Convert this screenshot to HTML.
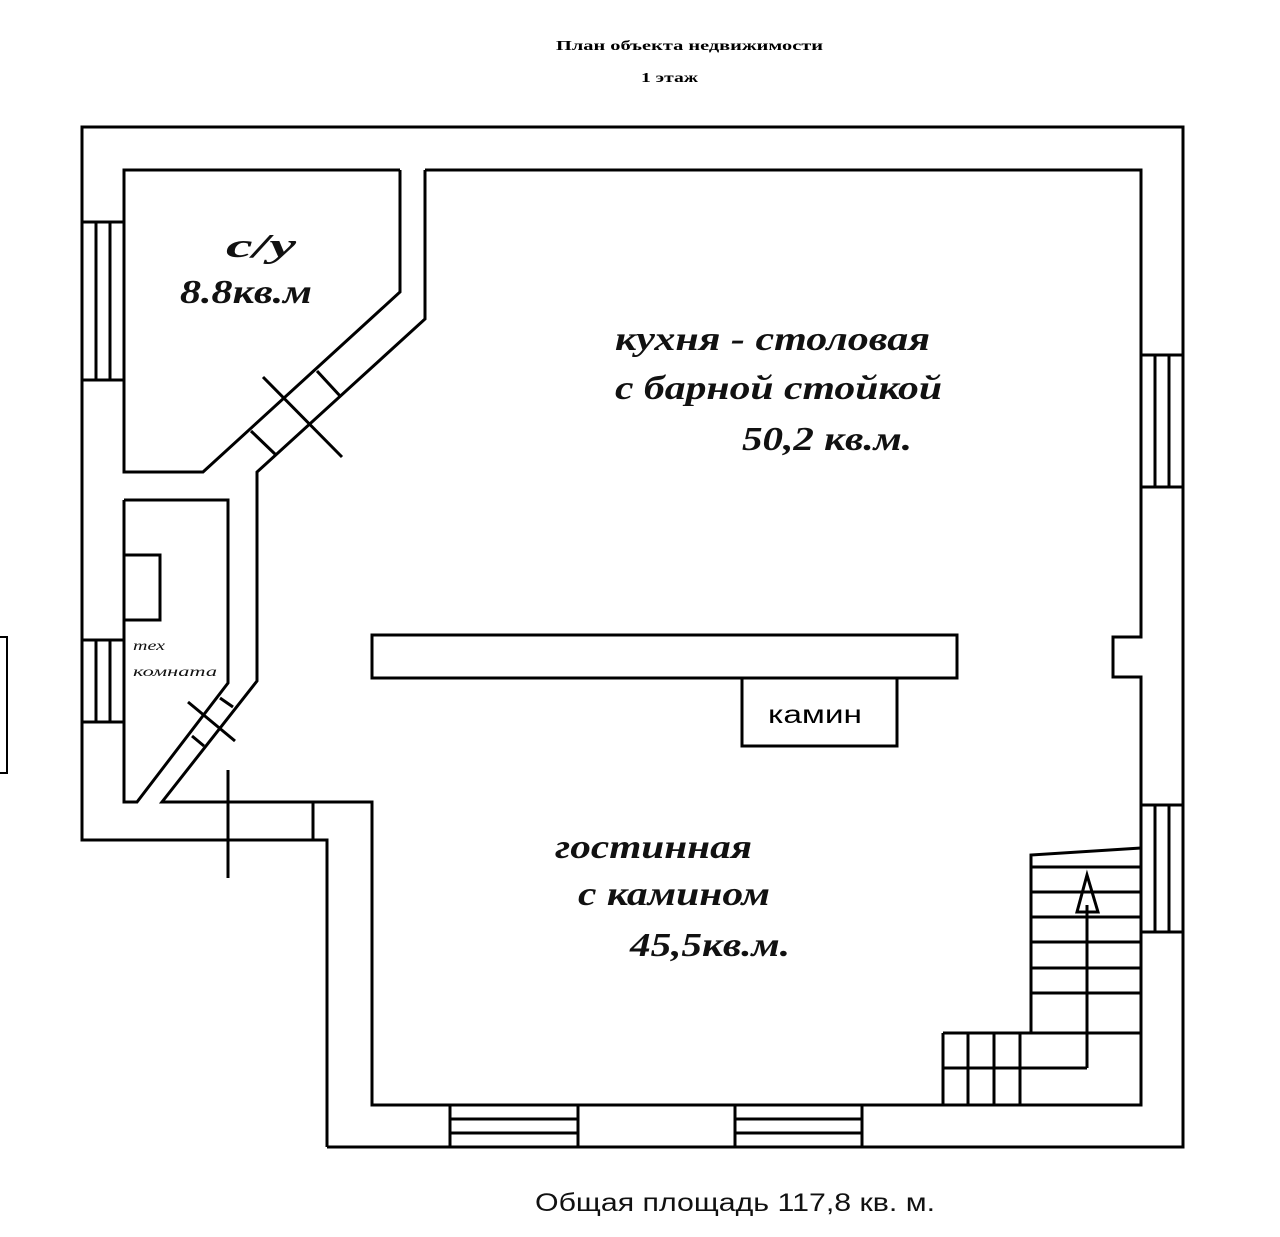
<!DOCTYPE html>
<html><head><meta charset="utf-8"><style>
html,body{margin:0;padding:0;background:#fff;}
svg{display:block}
.r{font-family:"Liberation Serif","DejaVu Serif",serif;font-weight:bold;font-style:italic;font-size:34px;fill:#111}
</style></head><body>
<svg width="1280" height="1237" viewBox="0 0 1280 1237" xmlns="http://www.w3.org/2000/svg">
<g fill="none" stroke="#000" stroke-width="3">
<polyline points="327,1147 1183,1147 1183,127 82,127 82,840 327,840 327,1147"/>
<polyline points="425,170 1141,170 1141,637 1113,637 1113,677 1141,677 1141,1105 372,1105 372,802 162,802 257,681 257,472 425,319 425,170"/>
<line x1="313" y1="802" x2="313" y2="840"/>
<polyline points="400,170 124,170 124,472 203,472 400,292 400,170"/>
<polyline points="124,500 228,500 228,683 137,802 124,802 124,500"/>
<rect x="124" y="555" width="36" height="65"/>
<line x1="317" y1="371" x2="341" y2="397"/>
<line x1="251" y1="431" x2="276" y2="455"/>
<line x1="263" y1="377" x2="342" y2="457"/>
<line x1="220" y1="698" x2="233" y2="707"/>
<line x1="192" y1="736" x2="204" y2="746"/>
<line x1="188" y1="702" x2="235" y2="741"/>
<line x1="228" y1="770" x2="228" y2="878"/>
<rect x="82" y="222" width="42" height="158"/>
<line x1="96" y1="222" x2="96" y2="380"/><line x1="110" y1="222" x2="110" y2="380"/>
<rect x="82" y="640" width="42" height="82"/>
<line x1="96" y1="640" x2="96" y2="722"/><line x1="110" y1="640" x2="110" y2="722"/>
<rect x="1141" y="355" width="42" height="132"/>
<line x1="1155" y1="355" x2="1155" y2="487"/><line x1="1169" y1="355" x2="1169" y2="487"/>
<rect x="1141" y="805" width="42" height="127"/>
<line x1="1155" y1="805" x2="1155" y2="932"/><line x1="1169" y1="805" x2="1169" y2="932"/>
<rect x="450" y="1105" width="128" height="42"/>
<line x1="450" y1="1119" x2="578" y2="1119"/><line x1="450" y1="1133" x2="578" y2="1133"/>
<rect x="735" y="1105" width="127" height="42"/>
<line x1="735" y1="1119" x2="862" y2="1119"/><line x1="735" y1="1133" x2="862" y2="1133"/>
<polyline points="0,637 7,637 7,773 0,773" stroke-width="2"/>
<rect x="372" y="635" width="585" height="43"/>
<rect x="742" y="678" width="155" height="68"/>
<polyline points="1141,848 1031,855 1031,1033"/>
<line x1="1031" y1="867" x2="1141" y2="867"/>
<line x1="1031" y1="892" x2="1141" y2="892"/>
<line x1="1031" y1="917" x2="1141" y2="917"/>
<line x1="1031" y1="942" x2="1141" y2="942"/>
<line x1="1031" y1="968" x2="1141" y2="968"/>
<line x1="1031" y1="993" x2="1141" y2="993"/>
<line x1="943" y1="1033" x2="1141" y2="1033"/>
<line x1="943" y1="1033" x2="943" y2="1105"/>
<line x1="968" y1="1033" x2="968" y2="1105"/>
<line x1="994" y1="1033" x2="994" y2="1105"/>
<line x1="1020" y1="1033" x2="1020" y2="1105"/>
<line x1="943" y1="1068" x2="1087" y2="1068"/>
<line x1="1087" y1="1068" x2="1087" y2="905"/>
<polygon points="1087,875 1077,912 1098,912"/>
</g>
<g font-family="Liberation Serif, serif" font-weight="bold" font-size="14" fill="#000">
<text x="556" y="50" textLength="267" lengthAdjust="spacingAndGlyphs">План объекта недвижимости</text>
<text x="641" y="82" textLength="57" lengthAdjust="spacingAndGlyphs">1 этаж</text>
</g>
<text class="r" x="226" y="257" textLength="70" lengthAdjust="spacingAndGlyphs">с/у</text>
<text class="r" x="180" y="303" textLength="132" lengthAdjust="spacingAndGlyphs">8.8кв.м</text>
<text class="r" x="615" y="350" textLength="315" lengthAdjust="spacingAndGlyphs">кухня - столовая</text>
<text class="r" x="615" y="399" textLength="327" lengthAdjust="spacingAndGlyphs">с барной стойкой</text>
<text class="r" x="742" y="450" textLength="170" lengthAdjust="spacingAndGlyphs">50,2 кв.м.</text>
<text class="r" x="555" y="858" textLength="197" lengthAdjust="spacingAndGlyphs">гостинная</text>
<text class="r" x="578" y="905" textLength="192" lengthAdjust="spacingAndGlyphs">с камином</text>
<text class="r" x="630" y="956" textLength="160" lengthAdjust="spacingAndGlyphs">45,5кв.м.</text>
<g font-family="Liberation Serif, serif" font-style="italic" font-size="14" fill="#111">
<text x="133" y="650" textLength="32" lengthAdjust="spacingAndGlyphs">тех</text>
<text x="133" y="676" textLength="84" lengthAdjust="spacingAndGlyphs">комната</text>
</g>
<text x="768" y="723" textLength="94" lengthAdjust="spacingAndGlyphs" font-family="Liberation Sans, sans-serif" font-size="25" fill="#000">камин</text>
<text x="535" y="1211" textLength="400" lengthAdjust="spacingAndGlyphs" font-family="Liberation Sans, sans-serif" font-size="25" fill="#111">Общая площадь 117,8 кв. м.</text>
</svg>
</body></html>
